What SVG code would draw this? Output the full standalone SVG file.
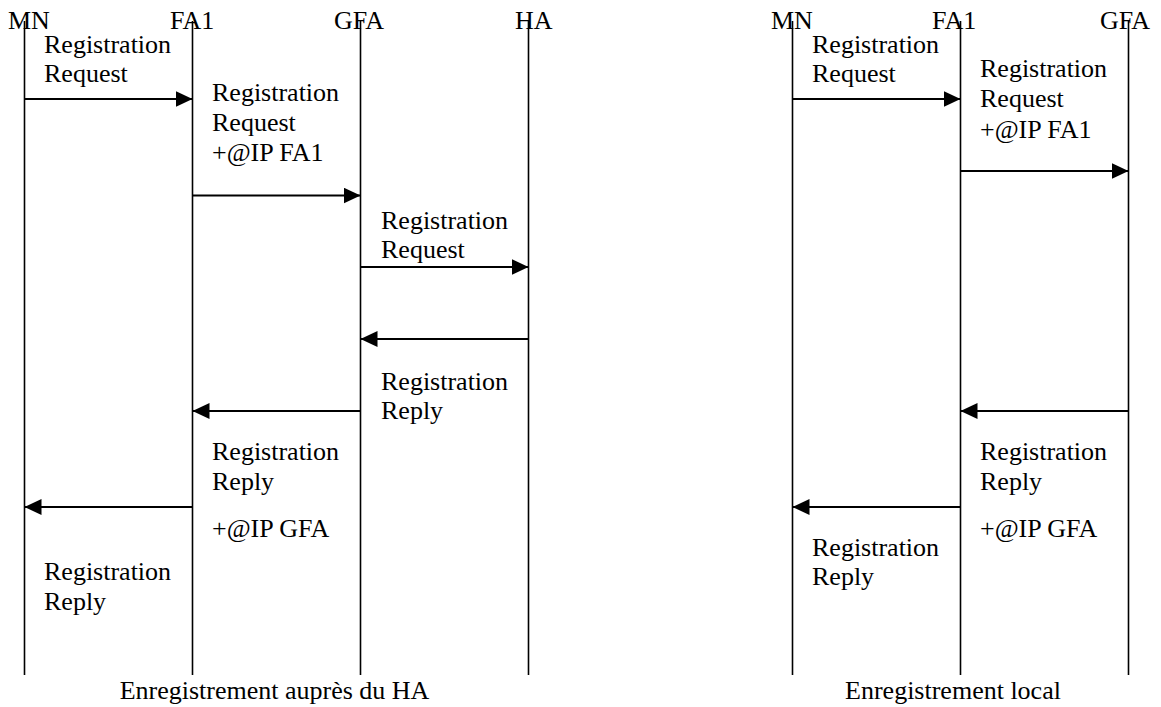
<svg xmlns="http://www.w3.org/2000/svg" width="1161" height="707" viewBox="0 0 1161 707">
  <style>
    text { font-family: "Liberation Serif", "Times New Roman", serif; font-size: 26px; fill: #000; }
    .life { stroke: #000; stroke-width: 1.6; fill: none; }
    .msg { stroke: #000; stroke-width: 2; fill: none; marker-end: url(#head); }
    .cap { text-anchor: middle; }
  </style>
  <defs>
    <marker id="head" markerUnits="userSpaceOnUse" markerWidth="17" markerHeight="16" viewBox="0 0 16 15" refX="16" refY="7.5" orient="auto">
      <polygon points="0,0 16,7.5 0,15" fill="#000"/>
    </marker>
  </defs>

  <!-- Home-agent registration: entities -->
  <g id="home-MN"><line class="life" x1="24.5" y1="21" x2="24.5" y2="675"/><text x="8" y="29">MN</text></g>
  <g id="home-FA1"><line class="life" x1="192.5" y1="21" x2="192.5" y2="675"/><text x="170" y="29">FA1</text></g>
  <g id="home-GFA"><line class="life" x1="360.5" y1="21" x2="360.5" y2="675"/><text x="334" y="29">GFA</text></g>
  <g id="home-HA"><line class="life" x1="528.5" y1="21" x2="528.5" y2="675"/><text x="515" y="29">HA</text></g>

  <!-- Local registration: entities -->
  <g id="local-MN"><line class="life" x1="792.5" y1="21" x2="792.5" y2="675"/><text x="771" y="29">MN</text></g>
  <g id="local-FA1"><line class="life" x1="960.5" y1="21" x2="960.5" y2="675"/><text x="932" y="29">FA1</text></g>
  <g id="local-GFA"><line class="life" x1="1128.5" y1="21" x2="1128.5" y2="675"/><text x="1100" y="29">GFA</text></g>

  <!-- Messages -->
  <g id="connectors">
    <line class="msg" x1="24.5" y1="99" x2="192.5" y2="99"/>
    <line class="msg" x1="192.5" y1="195.5" x2="360.5" y2="195.5"/>
    <line class="msg" x1="360.5" y1="267" x2="528.5" y2="267"/>
    <line class="msg" x1="528.5" y1="339" x2="360.5" y2="339"/>
    <line class="msg" x1="360.5" y1="411" x2="192.5" y2="411"/>
    <line class="msg" x1="192.5" y1="507" x2="24.5" y2="507"/>

    <line class="msg" x1="792.5" y1="99" x2="960.5" y2="99"/>
    <line class="msg" x1="960.5" y1="171" x2="1128.5" y2="171"/>
    <line class="msg" x1="1128.5" y1="411" x2="960.5" y2="411"/>
    <line class="msg" x1="960.5" y1="507" x2="792.5" y2="507"/>
  </g>

  <!-- Message labels -->
  <g id="labels">
    <text x="44" y="53">Registration</text>
    <text x="44" y="82">Request</text>

    <text x="212" y="101">Registration</text>
    <text x="212" y="131">Request</text>
    <text x="212" y="161">+@IP FA1</text>

    <text x="381" y="229">Registration</text>
    <text x="381" y="258">Request</text>

    <text x="381" y="390">Registration</text>
    <text x="381" y="419">Reply</text>

    <text x="212" y="460">Registration</text>
    <text x="212" y="490">Reply</text>
    <text x="212" y="537">+@IP GFA</text>

    <text x="44" y="580">Registration</text>
    <text x="44" y="610">Reply</text>

    <text x="812" y="53">Registration</text>
    <text x="812" y="82">Request</text>

    <text x="980" y="77">Registration</text>
    <text x="980" y="107">Request</text>
    <text x="980" y="138">+@IP FA1</text>

    <text x="980" y="460">Registration</text>
    <text x="980" y="490">Reply</text>
    <text x="980" y="537">+@IP GFA</text>

    <text x="812" y="556">Registration</text>
    <text x="812" y="585">Reply</text>
  </g>

  <!-- Captions -->
  <text class="cap" x="274.5" y="699">Enregistrement auprès du HA</text>
  <text class="cap" x="953" y="699">Enregistrement local</text>
</svg>
